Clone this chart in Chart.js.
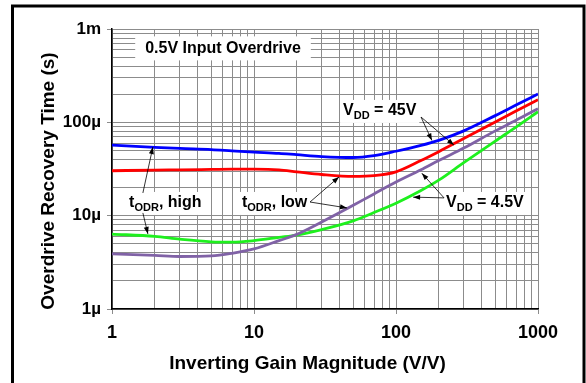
<!DOCTYPE html>
<html>
<head>
<meta charset="utf-8">
<script src="https://cdn.jsdelivr.net/npm/chart.js@4"></script>
<style>
  html, body { margin: 0; padding: 0; background: #fff; }
</style>
</head>
<body>
<canvas id="odrChart" width="586" height="383"></canvas>
<script>
// inverting gain magnitude (V/V)
const gain = [1, 2, 3, 5, 7, 10, 15, 20, 30, 50, 70, 100, 150, 200, 300, 500, 700, 1000];
// overdrive recovery time in microseconds
const vdd45High = [57, 54, 52.5, 51, 49.5, 48, 46.5, 45, 43, 42, 44, 49, 56.5, 64, 81, 118, 153, 201];
const vdd45Low = [30.3, 30.8, 31, 31.3, 31.5, 31.5, 31, 29.5, 27.6, 26.3, 26.8, 29.5, 39, 48.5, 67, 101, 132, 175];
const vdd4p5High = [6.35, 6.0, 5.6, 5.25, 5.2, 5.4, 5.85, 6.2, 7.1, 8.8, 10.8, 13.6, 18.6, 24, 37, 63, 89, 130];
const vdd4p5Low = [3.9, 3.75, 3.65, 3.7, 3.95, 4.4, 5.4, 6.3, 8.55, 12.9, 17.1, 22.9, 31, 39, 53, 81, 105, 140];

const xTickValues = [1, 10, 100, 1000];
const xTickLabels = ['1', '10', '100', '1000'];
const yTickValues = [1, 10, 100, 1000];
const yTickLabels = ['1\u00b5', '10\u00b5', '100\u00b5', '1m'];

// annotations, in data units (gain, microseconds)
const noteText = '0.5V Input Overdrive';
const noteAt = [6.05, 620];
const curveLabels = [
  { parts: [['V', 0], ['DD', 1], [' = 45V', 0]], at: [42.4, 120] },
  { parts: [['V', 0], ['DD', 1], [' = 4.5V', 0]], at: [225, 12.4] },
  { parts: [['t', 0], ['ODR', 1], [', high', 0]], at: [1.32, 12.4] },
  { parts: [['t', 0], ['ODR', 1], [', low', 0]], at: [8.23, 12.4] }
];
const arrows = [
  [1.65, 17.5, 1.94, 54.4],
  [1.65, 10.7, 1.79, 6.37],
  [24.8, 14.0, 39.7, 26.0],
  [24.8, 14.0, 45.2, 12.1],
  [150, 114, 179, 64],
  [150, 114, 256, 57],
  [218, 15.5, 152, 28.5],
  [218, 15.5, 132, 15.8]
];

const FONT = '"Liberation Sans", Arial, sans-serif';
const GRID = '#8c8c8c';

function logTicks(min, max) {
  const out = [];
  for (let e = Math.log10(min); e < Math.log10(max); e++) {
    for (let m = 1; m < 10; m++) out.push({ value: m * Math.pow(10, e) });
  }
  out.push({ value: max });
  return out;
}

function drawParts(ctx, parts, x0, base, box) {
  let w = 0;
  parts.forEach(([t, sub]) => {
    ctx.font = sub ? 'bold 11px ' + FONT : 'bold 16px ' + FONT;
    w += ctx.measureText(t).width;
  });
  if (box) {
    ctx.fillStyle = '#fff';
    ctx.fillRect(x0 - 3, base - 15, w + 6, 23);
    return;
  }
  let x = x0;
  ctx.fillStyle = '#000';
  ctx.textAlign = 'left';
  ctx.textBaseline = 'alphabetic';
  parts.forEach(([t, sub]) => {
    ctx.font = sub ? 'bold 11px ' + FONT : 'bold 16px ' + FONT;
    ctx.fillText(t, x, sub ? base + 4 : base);
    x += ctx.measureText(t).width;
  });
}

const overlay = {
  id: 'overlay',
  beforeDatasetsDraw(chart) {
    const { ctx, scales: { x, y } } = chart;
    ctx.save();
    // note box
    const nx = x.getPixelForValue(noteAt[0]);
    const ny = y.getPixelForValue(noteAt[1]);
    ctx.font = 'bold 16px ' + FONT;
    const nw = ctx.measureText(noteText).width;
    ctx.fillStyle = '#fff';
    ctx.fillRect(nx - nw / 2 - 10, ny - 12, nw + 20, 24);
    ctx.fillStyle = '#000';
    ctx.textAlign = 'center';
    ctx.textBaseline = 'middle';
    ctx.fillText(noteText, nx, ny);
    // curve labels
    curveLabels.forEach(l => {
      const px = x.getPixelForValue(l.at[0]);
      const py = y.getPixelForValue(l.at[1]);
      drawParts(ctx, l.parts, px, py, true);
      drawParts(ctx, l.parts, px, py, false);
    });
    ctx.restore();
  },
  afterDatasetsDraw(chart) {
    const { ctx, scales: { x, y } } = chart;
    ctx.save();
    ctx.strokeStyle = '#000';
    ctx.fillStyle = '#000';
    ctx.lineWidth = 0.8;
    arrows.forEach(([tx, ty, hx, hy]) => {
      const x1 = x.getPixelForValue(tx), y1 = y.getPixelForValue(ty);
      const x2 = x.getPixelForValue(hx), y2 = y.getPixelForValue(hy);
      const a = Math.atan2(y2 - y1, x2 - x1);
      ctx.beginPath();
      ctx.moveTo(x1, y1);
      ctx.lineTo(x2, y2);
      ctx.stroke();
      ctx.beginPath();
      ctx.moveTo(x2, y2);
      ctx.lineTo(x2 - 7 * Math.cos(a) + 2.5 * Math.sin(a), y2 - 7 * Math.sin(a) - 2.5 * Math.cos(a));
      ctx.lineTo(x2 - 7 * Math.cos(a) - 2.5 * Math.sin(a), y2 - 7 * Math.sin(a) + 2.5 * Math.cos(a));
      ctx.closePath();
      ctx.fill();
    });
    ctx.restore();
  },
  afterDraw(chart) {
    const { ctx } = chart;
    ctx.save();
    // axis titles
    ctx.fillStyle = '#000';
    ctx.font = 'bold 19px ' + FONT;
    ctx.textAlign = 'center';
    ctx.textBaseline = 'alphabetic';
    ctx.fillText('Inverting Gain Magnitude (V/V)', 307.5, 368.5);
    ctx.translate(54, 181);
    ctx.rotate(-Math.PI / 2);
    ctx.fillText('Overdrive Recovery Time (s)', 0, 0);
    ctx.restore();
    // outer frame
    ctx.save();
    ctx.strokeStyle = '#000';
    ctx.lineWidth = 3;
    ctx.beginPath();
    ctx.moveTo(12.5, 390);
    ctx.lineTo(12.5, 6);
    ctx.lineTo(584, 6);
    ctx.lineTo(584, 390);
    ctx.stroke();
    ctx.restore();
  }
};

function series(data, color) {
  return {
    data: data,
    borderColor: color,
    borderWidth: 2.8,
    pointRadius: 0,
    fill: false,
    cubicInterpolationMode: 'monotone'
  };
}

new Chart(document.getElementById('odrChart'), {
  type: 'line',
  data: {
    labels: gain,
    datasets: [
      series(vdd45High, '#0000ff'),
      series(vdd45Low, '#ff0000'),
      series(vdd4p5Low, '#8062a6'),
      series(vdd4p5High, '#1ef01e')
    ]
  },
  options: {
    responsive: false,
    animation: false,
    layout: { padding: { left: 0, right: 48, top: 29, bottom: 0 } },
    plugins: { legend: { display: false }, tooltip: { enabled: false } },
    scales: {
      x: {
        type: 'logarithmic',
        min: 1,
        max: 1000,
        afterBuildTicks: s => { s.ticks = logTicks(1, 1000); },
        afterFit: s => { s.height = 74; },
        ticks: {
          autoSkip: false,
          maxRotation: 0,
          padding: 8,
          color: '#000',
          font: { family: FONT, size: 18, weight: 'bold' },
          callback: v => { const i = xTickValues.indexOf(v); return i < 0 ? '' : xTickLabels[i]; }
        },
        grid: {
          color: GRID,
          lineWidth: 1,
          tickLength: 5,
          tickColor: c => (c.tick && xTickValues.includes(c.tick.value)) ? GRID : 'rgba(0,0,0,0)'
        },
        border: { color: '#000', width: 1.5 }
      },
      y: {
        type: 'logarithmic',
        min: 1,
        max: 1000,
        afterBuildTicks: s => { s.ticks = logTicks(1, 1000); },
        afterFit: s => { s.width = 112; },
        ticks: {
          autoSkip: false,
          padding: 6,
          color: '#000',
          font: { family: FONT, size: 17, weight: 'bold' },
          callback: v => { const i = yTickValues.indexOf(v); return i < 0 ? '' : yTickLabels[i]; }
        },
        grid: {
          color: GRID,
          lineWidth: 1,
          tickLength: 5,
          tickColor: c => (c.tick && yTickValues.includes(c.tick.value)) ? GRID : 'rgba(0,0,0,0)'
        },
        border: { color: '#000', width: 1.5 }
      }
    }
  },
  plugins: [overlay]
});
</script>
</body>
</html>
